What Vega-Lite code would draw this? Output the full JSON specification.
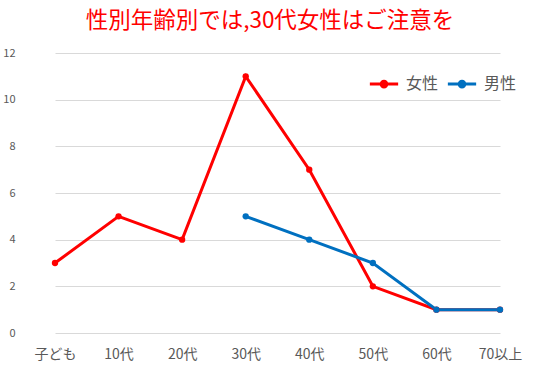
{
  "$schema": "https://vega.github.io/schema/vega-lite/v6.json",
  "width": 492,
  "height": 280,
  "autosize": {"type": "none"},
  "padding": {"left": 24, "top": 53, "right": 23, "bottom": 47},
  "background": "white",
  "title": {
    "text": "性別年齢別では,30代女性はご注意を",
    "color": "#FF0000",
    "fontSize": 22.5,
    "font": "Noto Sans CJK JP",
    "fontWeight": "normal",
    "anchor": "middle",
    "offset": 15
  },
  "data": {
    "values": [
      {"age": "子ども", "sex": "女性", "count": 3},
      {"age": "10代", "sex": "女性", "count": 5},
      {"age": "20代", "sex": "女性", "count": 4},
      {"age": "30代", "sex": "女性", "count": 11},
      {"age": "40代", "sex": "女性", "count": 7},
      {"age": "50代", "sex": "女性", "count": 2},
      {"age": "60代", "sex": "女性", "count": 1},
      {"age": "70以上", "sex": "女性", "count": 1},
      {"age": "30代", "sex": "男性", "count": 5},
      {"age": "40代", "sex": "男性", "count": 4},
      {"age": "50代", "sex": "男性", "count": 3},
      {"age": "60代", "sex": "男性", "count": 1},
      {"age": "70以上", "sex": "男性", "count": 1}
    ]
  },
  "mark": {"type": "line", "strokeWidth": 3, "point": {"filled": true, "size": 40}},
  "encoding": {
    "x": {
      "field": "age",
      "type": "ordinal",
      "sort": ["子ども", "10代", "20代", "30代", "40代", "50代", "60代", "70以上"],
      "scale": {"type": "point", "range": [31, 476], "padding": 0},
      "axis": {
        "title": null,
        "domain": false,
        "ticks": false,
        "grid": false,
        "labelAngle": 0,
        "labelFontSize": 14,
        "labelFont": "Noto Sans CJK JP",
        "labelColor": "#595959",
        "labelPadding": 14
      }
    },
    "y": {
      "field": "count",
      "type": "quantitative",
      "scale": {"domain": [0, 12]},
      "axis": {
        "title": null,
        "values": [0, 2, 4, 6, 8, 10, 12],
        "domain": false,
        "ticks": false,
        "gridColor": "#D9D9D9",
        "gridWidth": 1,
        "labelFontSize": 11,
        "labelFont": "Noto Sans CJK JP",
        "labelColor": "#595959",
        "labelPadding": 9
      }
    },
    "color": {
      "field": "sex",
      "type": "nominal",
      "scale": {"domain": ["女性", "男性"], "range": ["#FF0000", "#0070C0"]},
      "legend": {
        "title": null,
        "orient": "none",
        "legendX": 344,
        "legendY": 15,
        "direction": "horizontal",
        "labelFontSize": 16,
        "labelFont": "Noto Sans CJK JP",
        "labelColor": "#595959",
        "symbolType": "M-1,0H1M-0.2,0A0.2,0.2 0 1,1 0.2,0A0.2,0.2 0 1,1 -0.2,0Z",
        "symbolSize": 800,
        "symbolStrokeWidth": 3,
        "columnPadding": 2,
        "labelOffset": 6
      }
    }
  },
  "config": {"view": {"stroke": null}}
}
